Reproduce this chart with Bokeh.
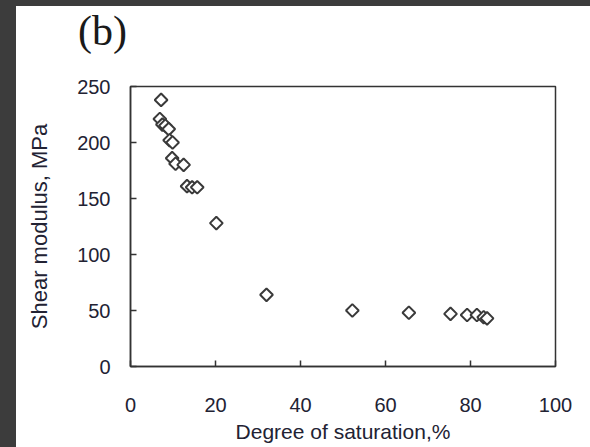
import math
from bokeh.plotting import figure
from bokeh.layouts import column, row
from bokeh.models import Range1d, FixedTicker, Div
from bokeh.embed import file_html
from bokeh.resources import INLINE

# Data
saturation = [7.2, 6.9, 7.5, 8.2, 9.0, 9.2, 9.9, 9.8, 10.6, 12.5, 13.3, 14.5, 15.7,
              20.2, 32.0, 52.2, 65.5, 75.3, 79.2, 81.5, 83.1, 83.9]
shear_modulus = [238, 221, 216, 215, 212, 202, 200, 186, 181, 180, 161, 160, 160,
                 128, 64, 50, 48, 47, 46, 46, 44, 43]
x_ticks = [0, 20, 40, 60, 80, 100]
y_ticks = [0, 50, 100, 150, 200, 250]
panel_label = "(b)"

p = figure(width=574, height=393, output_backend="svg", toolbar_location=None,
           x_range=Range1d(0, 100), y_range=Range1d(0, 250),
           min_border_left=114, min_border_right=35, min_border_top=32,
           min_border_bottom=81, margin=0)

p.background_fill_color = "white"
p.border_fill_color = "white"
p.grid.visible = False
p.outline_line_color = "#333333"
p.outline_line_width = 1.5

p.scatter(saturation, shear_modulus, marker="square", size=9, angle=math.pi / 4,
          fill_color="white", line_color="#3a3a3a", line_width=2)

for ax in (p.xaxis[0], p.yaxis[0]):
    ax.axis_line_color = "#333333"
    ax.axis_line_width = 1.5
    ax.major_tick_in = 6
    ax.major_tick_out = 0
    ax.major_tick_line_color = "#333333"
    ax.major_tick_line_width = 1.5
    ax.minor_tick_line_color = None
    ax.major_label_text_font = "Liberation Sans"
    ax.major_label_text_font_size = "20px"
    ax.major_label_text_color = "#222233"
    ax.axis_label_text_font = "Liberation Sans"
    ax.axis_label_text_font_style = "normal"
    ax.axis_label_text_color = "#222233"

p.xaxis.axis_label_text_font_size = "21px"
p.yaxis.axis_label_text_font_size = "22px"
p.xaxis.ticker = FixedTicker(ticks=x_ticks)
p.yaxis.ticker = FixedTicker(ticks=y_ticks)
p.xaxis.axis_label = "Degree of saturation,%"
p.yaxis.axis_label = "Shear modulus, MPa"
p.xaxis.major_label_standoff = 31
p.xaxis.axis_label_standoff = 5
p.yaxis.major_label_standoff = 20
p.yaxis.axis_label_standoff = 22

title_div = Div(
    text=("<div style='font-family:\"Liberation Serif\";font-size:42px;"
          "line-height:42px;color:#1a1a1a;padding-left:62px;padding-top:4px;margin:0'>"
          + panel_label + "</div>"),
    width=574, height=48, margin=0)

# dark frame bands of the screenshot
top_band = Div(text="", width=590, height=6, margin=0,
               styles={"background-color": "#3c3c3c"})
left_band = Div(text="", width=16, height=441, margin=0,
                styles={"background-color": "#3c3c3c"})

page = column(top_band,
              row(left_band, column(title_div, p, spacing=0), spacing=0),
              spacing=0)

open("out.html", "w").write(file_html(page, INLINE))
